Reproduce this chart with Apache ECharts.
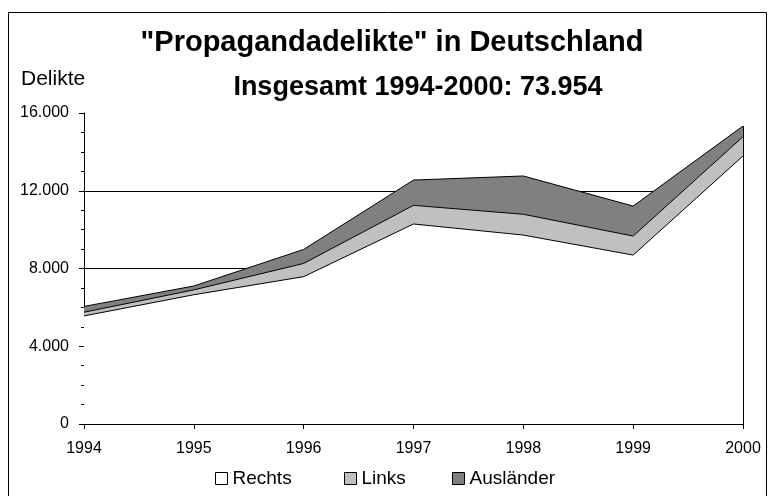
<!DOCTYPE html>
<html>
<head>
<meta charset="utf-8">
<script src="https://cdn.jsdelivr.net/npm/echarts@6/dist/echarts.min.js"></script>
<style>html,body{margin:0;padding:0;background:#fff}#c{width:773px;height:496px}</style>
</head>
<body>
<div id="c"></div>
<script>
const years = ['1994','1995','1996','1997','1998','1999','2000'];
const rechts = [5560, 6650, 7580, 10290, 9720, 8690, 13790];
const links = [190, 250, 680, 960, 1070, 980, 990];
const auslaender = [300, 200, 720, 1300, 1970, 1540, 550];
const yTicks = [0, 4000, 8000, 12000, 16000];
const seriesNames = ['Rechts', 'Links', 'Ausländer'];
const titleText = '"Propagandadelikte" in Deutschland';
const subtitleText = 'Insgesamt 1994-2000: 73.954';
const yName = 'Delikte';

const FONT = 'Liberation Sans, Arial, sans-serif';
const fmt = v => String(v).replace(/\B(?=(\d{3})+(?!\d))/g, '.');
const lastIdx = years.length - 1;
const lastTotal = rechts[lastIdx] + links[lastIdx] + auslaender[lastIdx];

const chart = echarts.init(document.getElementById('c'), null, {renderer: 'canvas'});
const areaSeries = (name, data, color) => ({
  name, type: 'line', stack: 'total', data,
  symbol: 'none', smooth: false,
  lineStyle: {color: '#000', width: 1},
  areaStyle: {color, opacity: 1},
  itemStyle: {color, borderColor: '#000', borderWidth: 1},
  emphasis: {disabled: true}
});
const s1 = areaSeries(seriesNames[0], rechts, '#ffffff');
s1.markLine = {
  silent: true, symbol: 'none', label: {show: false},
  lineStyle: {color: '#000', width: 1, type: 'solid'},
  data: [[{coord: [years[lastIdx], 0]}, {coord: [years[lastIdx], lastTotal]}]]
};
const legendLefts = [210, 339, 447];
const legends = seriesNames.map((n, i) => ({
  top: 464, left: legendLefts[i], itemWidth: 12, itemHeight: 12,
  icon: 'rect',
  itemStyle: {borderColor: '#000', borderWidth: 1},
  textStyle: {fontFamily: FONT, fontSize: 19, color: '#000'},
  data: [n]
}));
chart.setOption({
  animation: false,
  backgroundColor: '#fff',
  graphic: [{type: 'rect', shape: {x: 8.5, y: 12.5, width: 758, height: 500}, style: {fill: 'none', stroke: '#000', lineWidth: 1}, z: -10}],
  title: [
    {text: titleText, left: 387, top: 23, textAlign: 'center', textStyle: {fontFamily: FONT, fontWeight: 'bold', fontSize: 29, color: '#000'}},
    {text: subtitleText, left: 413, top: 69, textAlign: 'center', textStyle: {fontFamily: FONT, fontWeight: 'bold', fontSize: 27, color: '#000'}},
    {text: yName, left: 16, top: 64, textStyle: {fontFamily: FONT, fontWeight: 'normal', fontSize: 21, color: '#000'}}
  ],
  legend: legends,
  grid: {left: 84, right: 30, top: 113, bottom: 72, containLabel: false},
  xAxis: {
    type: 'category', data: years, boundaryGap: false,
    axisLine: {lineStyle: {color: '#000', width: 1}},
    axisTick: {show: true, length: 5, lineStyle: {color: '#000'}, alignWithLabel: true},
    axisLabel: {fontFamily: FONT, fontSize: 16, color: '#000', margin: 17},
    splitLine: {show: false}
  },
  yAxis: {
    type: 'value', min: yTicks[0], max: yTicks[yTicks.length - 1], interval: yTicks[1] - yTicks[0],
    axisLine: {show: true, lineStyle: {color: '#000', width: 1}},
    axisTick: {show: true, length: 5, lineStyle: {color: '#000'}},
    minorTick: {show: true, splitNumber: 4, length: 3, lineStyle: {color: '#000'}},
    axisLabel: {fontFamily: FONT, fontSize: 16, color: '#000', margin: 15, formatter: v => fmt(v)},
    splitLine: {show: true, lineStyle: {color: ['#000', '#000', '#000', '#000', 'rgba(0,0,0,0)'], width: 1}}
  },
  series: [
    s1,
    areaSeries(seriesNames[1], links, '#c0c0c0'),
    areaSeries(seriesNames[2], auslaender, '#808080')
  ]
});
</script>
</body>
</html>
